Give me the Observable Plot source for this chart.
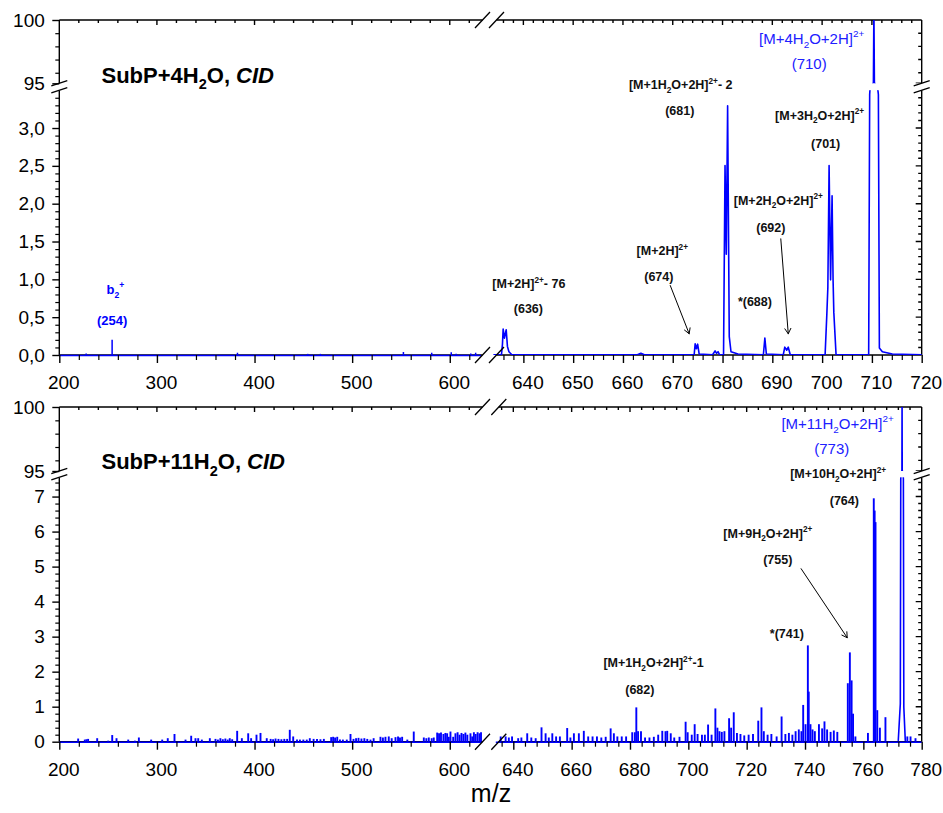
<!DOCTYPE html>
<html><head><meta charset="utf-8">
<script src="https://cdn.jsdelivr.net/npm/d3@7"></script>
<script src="https://cdn.jsdelivr.net/npm/@observablehq/plot@0.6"></script>
<style>body{margin:0;background:#fff;} #chart svg{display:block;}</style>
</head><body><div id="chart"></div>
<script>
// ===================== DATA =====================
// Axis breaks (m/z and relative intensity)
const topXDomain = [200, 632, 634, 720];
const botXDomain = [200, 632, 634, 780];
const topYDomain = [0, 3.5, 95.2, 100];
const botYDomain = [0, 7.55, 95.2, 100];

// Tick values and labels
const topXTicks = [200, 300, 400, 500, 600, 640, 650, 660, 670, 680, 690, 700, 710, 720];
const topXLabels = ["200", "300", "400", "500", "600", "640", "650", "660", "670", "680", "690", "700", "710", "720"];
const botXTicks = [200, 300, 400, 500, 600, 640, 660, 680, 700, 720, 740, 760, 780];
const botXLabels = ["200", "300", "400", "500", "600", "640", "660", "680", "700", "720", "740", "760", "780"];
const topYTicks = [0, 0.5, 1, 1.5, 2, 2.5, 3, 95, 100];
const topYLabels = ["0,0", "0,5", "1,0", "1,5", "2,0", "2,5", "3,0", "95", "100"];
const botYTicks = [0, 1, 2, 3, 4, 5, 6, 7, 95, 100];
const botYLabels = ["0", "1", "2", "3", "4", "5", "6", "7", "95", "100"];

// Top spectrum (SubP+4H2O): small sticks [m/z, intensity]
const topSticks = [[227, 0.02], [253.6, 0.2], [382, 0.03], [454, 0.015], [467, 0.015], [552, 0.04],
  [581, 0.03], [601, 0.035], [606, 0.015], [621, 0.02], [626, 0.03]];
// Top spectrum profile, right of the break [m/z, intensity]
const topProfile = [
  [634, 0.01], [635.5, 0.01], [635.7, 0.15], [635.84, 0.35], [636.1, 0.23], [636.45, 0.34], [636.7, 0.12], [637.0, 0.05], [637.6, 0.01],
  [662.8, 0.01], [663.5, 0.03], [664.2, 0.01],
  [674.2, 0.01], [674.4, 0.155], [674.65, 0.09], [674.9, 0.15], [675.2, 0.02],
  [677.9, 0.01], [678.4, 0.06], [678.7, 0.03], [679.0, 0.05], [679.3, 0.01],
  [680.1, 0.01], [680.4, 2.51], [680.65, 1.34], [680.92, 3.30], [681.25, 0.25], [681.6, 0.05], [683, 0.02],
  [688.1, 0.01], [688.4, 0.23], [688.7, 0.02],
  [692.1, 0.01], [692.4, 0.11], [692.8, 0.07], [693.1, 0.11], [693.5, 0.01],
  [700.5, 0.01], [700.85, 0.55], [701.05, 0.9], [701.3, 2.51], [701.6, 1.0], [701.9, 2.11], [702.1, 1.0], [702.25, 0.57], [702.7, 0.01],
  [709.25, 0.01], [709.45, 3.45], [709.5, 10], [710.2, 95.3], [710.3, 101], [710.4, 95.3], [711.1, 10], [711.2, 3.45], [711.4, 0.1],
  [712, 0.05], [714, 0.02], [720, 0.01]
];

// Bottom spectrum (SubP+11H2O): sticks [m/z, intensity]
const botSticks = [
  [218.8, 0.09], [225.6, 0.06], [227.3, 0.07], [229, 0.08], [238.3, 0.1], [249.6, 0.03], [253.7, 0.19], [258.1, 0.1],
  [270.1, 0.06], [276.9, 0.03], [281, 0.12], [293.6, 0.06], [304.9, 0.06], [310.6, 0.1], [317.5, 0.22], [328.8, 0.06],
  [334.6, 0.17], [339, 0.1], [341.8, 0.1], [345.5, 0.06], [353.7, 0.1], [359.5, 0.08], [362, 0.06], [364.5, 0.1],
  [367, 0.07], [369.6, 0.09], [372, 0.06], [374.1, 0.1], [376.6, 0.07], [381.7, 0.31], [386.5, 0.1], [393, 0.24],
  [396, 0.1], [401.5, 0.2], [405.6, 0.25], [412, 0.1], [416, 0.08], [418.5, 0.07], [421, 0.09], [424, 0.08],
  [427, 0.07], [430, 0.08], [432.9, 0.08], [435.6, 0.34], [439.1, 0.15], [443, 0.06], [446, 0.06], [449.5, 0.06],
  [453, 0.06], [456.1, 0.1], [460, 0.08], [463.5, 0.08], [467, 0.07], [470.5, 0.08], [478, 0.13], [480, 0.14],
  [482, 0.12], [484.2, 0.14], [487, 0.06], [490, 0.06], [494, 0.06], [497.8, 0.22], [500.9, 0.08], [503.5, 0.1],
  [506, 0.11], [509, 0.09], [512, 0.1], [515, 0.08], [518.3, 0.06], [521.5, 0.1], [528.5, 0.14], [531, 0.12],
  [533.6, 0.14], [537, 0.15], [540, 0.1], [543.9, 0.13], [546.5, 0.15], [548.5, 0.12], [550.7, 0.14], [556, 0.06],
  [562.6, 0.29], [572.9, 0.12], [575.5, 0.1], [578, 0.12], [581, 0.1], [583.1, 0.12], [586.6, 0.26], [588.5, 0.24],
  [590.5, 0.26], [593, 0.22], [595, 0.25], [596.8, 0.24], [598.5, 0.14], [600.2, 0.29], [603, 0.14], [605.3, 0.24],
  [607.5, 0.27], [609.5, 0.2], [611.5, 0.25], [613.5, 0.22], [615.5, 0.26], [617.5, 0.2], [620.7, 0.24], [622.5, 0.15],
  [624.2, 0.27], [626, 0.22], [628, 0.27], [630, 0.24], [631.5, 0.27],
  [635.5, 0.15], [637.2, 0.15], [638.3, 0.12], [639.4, 0.15], [641.5, 0.1], [642.6, 0.12], [644.6, 0.24], [646, 0.12],
  [647.5, 0.1], [649.5, 0.41], [650.9, 0.24], [652, 0.12], [653.2, 0.24], [654.5, 0.15], [655.8, 0.15], [658.3, 0.39],
  [659.4, 0.12], [660.6, 0.24], [662.3, 0.24], [664, 0.31], [665.5, 0.15], [667, 0.15], [668.5, 0.15], [670, 0.12],
  [671.5, 0.14], [673.2, 0.38], [674.3, 0.24], [675.5, 0.15], [677, 0.15], [678.5, 0.15], [680.6, 0.27], [681.5, 0.27],
  [682, 0.98], [682.6, 0.3], [683.6, 0.3], [685, 0.12], [686.5, 0.12], [688, 0.14], [689.5, 0.2], [690.9, 0.31],
  [692, 0.3], [692.6, 0.31], [693.8, 0.24], [695, 0.12], [696.8, 0.14], [698.9, 0.57], [699.6, 0.27], [701, 0.2],
  [702, 0.5], [703, 0.22], [704.5, 0.2], [705.5, 0.2], [706.6, 0.49], [707.8, 0.2], [709.1, 0.95], [709.8, 0.4],
  [710.5, 0.3], [711.3, 0.28], [712.2, 0.3], [713.8, 0.67], [714.5, 0.4], [715.4, 0.84], [716.5, 0.25], [717.7, 0.22],
  [719, 0.18], [720.5, 0.2], [722, 0.22], [723.8, 0.6], [724.9, 0.98], [725.7, 0.3], [727, 0.2], [728.3, 0.22],
  [730.1, 0.15], [731.8, 0.72], [733.1, 0.22], [734.3, 0.25], [735.5, 0.2], [736.6, 0.3], [737.7, 0.35], [738.6, 0.3],
  [739.2, 1.05], [740, 0.5], [740.8, 2.75], [741.1, 1.43], [741.7, 0.5], [742.4, 0.35], [743.2, 0.3], [744.6, 0.5],
  [745.7, 0.38], [746.5, 0.58], [747.4, 0.35], [748.6, 0.28], [749.7, 0.32], [750.9, 0.28], [754.5, 1.67], [755.2, 2.55],
  [755.8, 1.75], [756.3, 0.8], [757.1, 0.15], [761.4, 0.25], [763.4, 6.95], [763.7, 6.6], [764.0, 6.27], [764.6, 0.9],
  [765.5, 0.4], [767.4, 0.7], [774.9, 0.15], [776, 0.15], [777.7, 0.1]
];
// Bottom main peak profile (773) [m/z, intensity]
const botPeak773 = [[771.8, 0.05], [772.5, 1.1], [772.65, 7.5], [772.7, 30], [773.05, 95.3], [773.1, 101],
  [773.15, 95.3], [773.5, 30], [773.55, 7.5], [773.7, 1.0], [774.2, 0.05]];

// Annotations: text, m/z, intensity
const topTitle = [{text: "SubP+4H_{2}O, ~{CID}", mz: 242.7, v: 95.82}];
const topBlackLabels = [
  {text: "[M+2H]^{2+}- 76", mz: 641.0, v: 0.947},
  {text: "(636)", mz: 640.9, v: 0.617},
  {text: "[M+2H]^{2+}", mz: 667.8, v: 1.378},
  {text: "(674)", mz: 667.1, v: 1.044},
  {text: "[M+1H_{2}O+2H]^{2+}- 2", mz: 671.5, v: 81.9},
  {text: "(681)", mz: 671.3, v: 3.238},
  {text: "*(688)", mz: 686.4, v: 0.704},
  {text: "[M+2H_{2}O+2H]^{2+}", mz: 691.1, v: 2.048},
  {text: "(692)", mz: 689.6, v: 1.688},
  {text: "[M+3H_{2}O+2H]^{2+}", mz: 699.4, v: 3.172},
  {text: "(701)", mz: 700.6, v: 2.798}
];
const topBlueBold = [{text: "b_{2}^{+}", mz: 257, v: 0.872}, {text: "(254)", mz: 253.6, v: 0.4625}];
const topBlueLabels = [{text: "[M+4H_{2}O+2H]^{2+}", mz: 697.8, v: 98.61}, {text: "(710)", mz: 697.3, v: 96.66}];
const topArrows = [{mz1: 669.4, v1: 0.925, mz2: 673.2, v2: 0.287}, {mz1: 691.6, v1: 1.542, mz2: 693.1, v2: 0.287}];

const botTitle = [{text: "SubP+11H_{2}O, ~{CID}", mz: 242.7, v: 95.9}];
const botBlackLabels = [
  {text: "[M+10H_{2}O+2H]^{2+}", mz: 751.2, v: 63.2},
  {text: "(764)", mz: 753.3, v: 6.877},
  {text: "[M+9H_{2}O+2H]^{2+}", mz: 727.1, v: 5.954},
  {text: "(755)", mz: 730.5, v: 5.191},
  {text: "*(741)", mz: 733.6, v: 3.097},
  {text: "[M+1H_{2}O+2H]^{2+}-1", mz: 687.9, v: 2.257},
  {text: "(682)", mz: 683.2, v: 1.477}
];
const botBlueLabels = [{text: "[M+11H_{2}O+2H]^{2+}", mz: 751.0, v: 98.78}, {text: "(773)", mz: 749.0, v: 96.9}];
const botArrows = [{mz1: 738.5, v1: 4.954, mz2: 754.3, v2: 2.983}];
const xLabel = ["m/z"];

// ===================== RENDERING =====================
const FONT = "'Liberation Sans', Arial, Helvetica, sans-serif";
const BLUE = "#0000ff";

function frameMark(cfg) {
  return (index, {x, y}) => {
    const X0 = x(cfg.xd[0]), X1 = x(cfg.xd[3]), Y0 = y(cfg.yd[0]), Y1 = y(cfg.yd[3]);
    const yb0 = y(cfg.yd[1]), yb1 = y(cfg.yd[2]);
    const cx1 = x(cfg.xd[1]) + 1.5, cx2 = x(cfg.xd[2]) + 3;
    const p = d3.path();
    for (const X of [X0, X1]) { p.moveTo(X, Y0); p.lineTo(X, yb0); p.moveTo(X, yb1); p.lineTo(X, Y1); }
    for (const Y of [Y0, Y1]) { p.moveTo(X0, Y); p.lineTo(cx1, Y); p.moveTo(cx2, Y); p.lineTo(X1, Y); }
    for (const t of cfg.yMajor) { p.moveTo(X1, y(t)); p.lineTo(X1 - 6, y(t)); }
    for (const t of cfg.yMinor) { p.moveTo(X1, y(t)); p.lineTo(X1 - 3.5, y(t)); }
    for (const t of cfg.xMajor) { p.moveTo(x(t), Y1); p.lineTo(x(t), Y1 + 5); }
    for (const t of cfg.xMinor) { p.moveTo(x(t), Y1); p.lineTo(x(t), Y1 + 3); }
    const g = d3.create("svg:g");
    g.append("path").attr("d", p.toString()).attr("fill", "none").attr("stroke", "black").attr("stroke-width", 1.4);
    return g.node();
  };
}
function breakMark(cfg) {
  return (index, {x, y}) => {
    const X0 = x(cfg.xd[0]), X1 = x(cfg.xd[3]), Y0 = y(cfg.yd[0]), Y1 = y(cfg.yd[3]);
    const yb0 = y(cfg.yd[1]), yb1 = y(cfg.yd[2]);
    const cx1 = x(cfg.xd[1]) + 1.5, cx2 = x(cfg.xd[2]) + 3;
    const g = d3.create("svg:g");
    g.append("rect").attr("x", X0 - 16).attr("width", X1 - X0 + 32).attr("y", yb1).attr("height", yb0 - yb1).attr("fill", "white");
    const p = d3.path();
    for (const X of [X0, X1]) for (const Yb of [yb0, yb1]) { p.moveTo(X - 8, Yb + 2.6); p.lineTo(X + 8, Yb - 2.6); }
    for (const Y of [Y0, Y1]) for (const cx of [cx1, cx2]) { p.moveTo(cx - 7.5, Y + 8); p.lineTo(cx + 7.5, Y - 8); }
    g.append("path").attr("d", p.toString()).attr("fill", "none").attr("stroke", "black").attr("stroke-width", 1.3);
    return g.node();
  };
}

function axes(cfg) {
  return [
    Plot.axisY({ticks: cfg.yMajor, tickSize: 7, tickPadding: 8, label: null, strokeWidth: 1.4,
      tickFormat: d => cfg.yLabels[cfg.yMajor.indexOf(d)]}),
    Plot.axisY({ticks: cfg.yMinor, tickSize: 4, label: null, strokeWidth: 1.2, tickFormat: () => ""}),
    Plot.axisX({ticks: cfg.xMajor, tickSize: 8, label: null, strokeWidth: 1.4, tickFormat: () => ""}),
    Plot.axisX({ticks: cfg.xMinor, tickSize: 5, label: null, strokeWidth: 1.2, tickFormat: () => ""}),
    Plot.axisX({ticks: cfg.xMajor, tickSize: 0, tickPadding: 20, dx: 4, label: null,
      tickFormat: d => cfg.xLabels[cfg.xMajor.indexOf(d)]})
  ];
}

const labelOpts = (extra) => Object.assign({x: "mz", y: "v", text: "text", fontFamily: FONT}, extra);

// ---- top panel ----
const topCfg = {
  xd: topXDomain, yd: topYDomain,
  xMajor: topXTicks, xLabels: topXLabels,
  xMinor: [...d3.range(220, 621, 20).filter(d => d % 100), ...d3.range(636, 719, 2).filter(d => d % 10)],
  yMajor: topYTicks, yLabels: topYLabels,
  yMinor: [...d3.range(1, 35).filter(i => i % 5).map(i => i / 10), 96, 97, 98, 99]
};
const topPlot = Plot.plot({
  width: 943, height: 390,
  marginTop: 20, marginBottom: 35, marginLeft: 59.3, marginRight: 21.3,
  style: {fontFamily: FONT, fontSize: "19px", color: "black", background: "white", overflow: "visible"},
  x: {type: "linear", domain: topXDomain, range: [59.3, 481, 493.5, 921.7]},
  y: {type: "linear", domain: topYDomain, range: [355, 90.2, 83.3, 20]},
  marks: [
    frameMark(topCfg),
    Plot.ruleY([0], {x1: topXDomain[0], x2: topXDomain[1], stroke: BLUE, strokeWidth: 1.6}),
    Plot.ruleX(topSticks, {x: d => d[0], y1: 0, y2: d => d[1], stroke: BLUE, strokeWidth: 1.5}),
    Plot.line(topProfile, {x: d => d[0], y: d => d[1], stroke: BLUE, strokeWidth: 1.6, clip: true}),
    breakMark(topCfg),
    ...axes(topCfg),
    Plot.text(topTitle, labelOpts({textAnchor: "start", fontSize: 22, fontWeight: "bold", fill: "black"})),
    Plot.text(topBlackLabels, labelOpts({fontSize: 12.5, fontWeight: "bold", fill: "#111"})),
    Plot.text(topBlueBold, labelOpts({fontSize: 13, fontWeight: "bold", fill: BLUE})),
    Plot.text(topBlueLabels, labelOpts({fontSize: 15, fill: "#2020ff"})),
    Plot.arrow(topArrows, {x1: "mz1", y1: "v1", x2: "mz2", y2: "v2", stroke: "black", strokeWidth: 1, headLength: 9})
  ]
});

// ---- bottom panel ----
const botCfg = {
  xd: botXDomain, yd: botYDomain,
  xMajor: botXTicks, xLabels: botXLabels,
  xMinor: [...d3.range(220, 621, 20).filter(d => d % 100), ...d3.range(636, 779, 4).filter(d => d % 20)],
  yMajor: botYTicks, yLabels: botYLabels,
  yMinor: [...d3.range(1, 38).filter(i => i % 5).map(i => i / 5), 96, 97, 98, 99]
};
const botPlot = Plot.plot({
  width: 943, height: 423,
  marginTop: 17, marginBottom: 71.3, marginLeft: 59.3, marginRight: 21.3,
  style: {fontFamily: FONT, fontSize: "19px", color: "black", background: "white", overflow: "visible"},
  x: {type: "linear", domain: botXDomain, range: [59.3, 481, 495.8, 921.7]},
  y: {type: "linear", domain: botYDomain, range: [351.7, 87.3, 81, 17]},
  marks: [
    frameMark(botCfg),
    Plot.ruleY([0], {x1: botXDomain[0], x2: botXDomain[1], stroke: BLUE, strokeWidth: 1.6}),
    Plot.ruleY([0], {x1: botXDomain[2], x2: botXDomain[3], stroke: BLUE, strokeWidth: 1.6}),
    Plot.ruleX(botSticks, {x: d => d[0], y1: 0, y2: d => d[1], stroke: BLUE, strokeWidth: 1.9}),
    Plot.line(botPeak773, {x: d => d[0], y: d => d[1], stroke: BLUE, strokeWidth: 1.6, clip: true}),
    breakMark(botCfg),
    ...axes(botCfg),
    Plot.text(botTitle, labelOpts({textAnchor: "start", fontSize: 22, fontWeight: "bold", fill: "black"})),
    Plot.text(botBlackLabels, labelOpts({fontSize: 12.5, fontWeight: "bold", fill: "#111"})),
    Plot.text(botBlueLabels, labelOpts({fontSize: 15, fill: "#2020ff"})),
    Plot.arrow(botArrows, {x1: "mz1", y1: "v1", x2: "mz2", y2: "v2", stroke: "black", strokeWidth: 1, headLength: 9}),
    Plot.text(xLabel, {text: d => d, frameAnchor: "bottom", dy: 60, fontSize: 25, fontFamily: FONT, fill: "black"})
  ]
});

const chart = document.getElementById("chart");
chart.appendChild(topPlot);
chart.appendChild(botPlot);

// Rich text: _{sub}, ^{sup}, ~{italic}
function richify(svg) {
  const NS = "http://www.w3.org/2000/svg";
  for (const t of svg.querySelectorAll("text")) {
    const s = t.textContent;
    if (!/[_^~]\{/.test(s)) continue;
    const fs = parseFloat(getComputedStyle(t).fontSize) || 12;
    const inner = t.querySelector("tspan");
    if (inner && inner.getAttribute("dy") && !t.getAttribute("dy")) t.setAttribute("dy", inner.getAttribute("dy"));
    while (t.firstChild) t.removeChild(t.firstChild);
    let shift = 0;
    const add = (str, kind) => {
      const sp = document.createElementNS(NS, "tspan");
      const target = kind === "_" ? 0.3 * fs : kind === "^" ? -0.42 * fs : 0;
      const dy = target - shift;
      if (dy) sp.setAttribute("dy", dy);
      shift = target;
      if (kind === "_" || kind === "^") sp.setAttribute("font-size", (0.66 * fs).toFixed(2));
      if (kind === "~") sp.setAttribute("font-style", "italic");
      sp.textContent = str;
      t.appendChild(sp);
    };
    const re = /([_^~])\{([^}]*)\}/g;
    let last = 0, m;
    while ((m = re.exec(s))) {
      if (m.index > last) add(s.slice(last, m.index), "");
      add(m[2], m[1]);
      last = re.lastIndex;
    }
    if (last < s.length) add(s.slice(last), "");
  }
}
richify(topPlot);
richify(botPlot);
</script>
</body></html>
